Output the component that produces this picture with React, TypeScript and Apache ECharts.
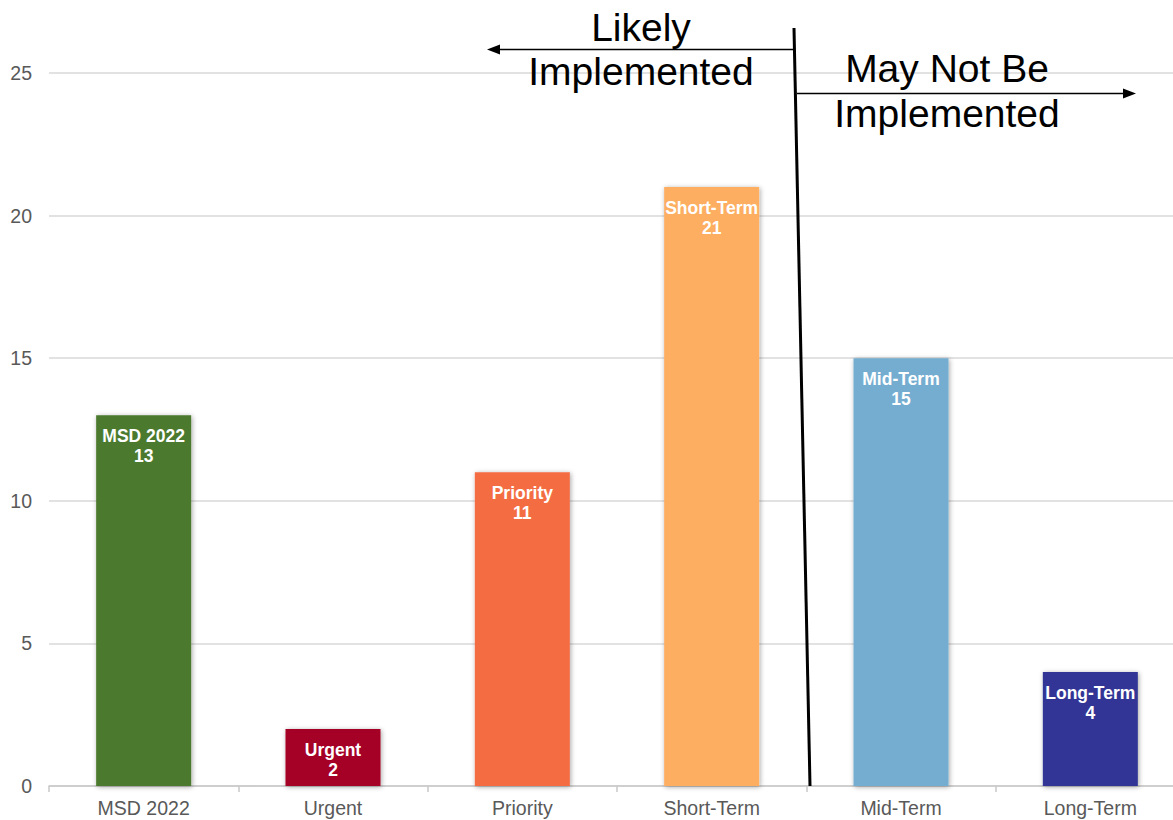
import React, { useEffect, useRef } from "react";
import * as echarts from "echarts";

const categories = ["MSD 2022", "Urgent", "Priority", "Short-Term", "Mid-Term", "Long-Term"];
const counts = [13, 2, 11, 21, 15, 4];
const barColors = ["#4b7a2d", "#a50026", "#f46d43", "#fdae61", "#74add1", "#313695"];
const yTicks = { min: 0, max: 25, interval: 5 };

const annotationFont = '"Liberation Sans", Arial, sans-serif';

export default function App() {
  const ref = useRef<HTMLDivElement>(null);

  useEffect(() => {
    document.body.style.margin = "0";
    if (!ref.current) return;
    const chart = echarts.init(ref.current, null, { renderer: "svg" });

    const annoText = (text: string, x: number, y: number) => ({
      type: "text",
      x,
      y,
      style: {
        text,
        fill: "#000",
        font: `39px ${annotationFont}`,
        align: "center",
        verticalAlign: "middle",
      },
      z: 100,
    });

    chart.setOption({
      animation: false,
      backgroundColor: "#ffffff",
      // the plot runs a little past the visible frame on the right
      grid: { left: 49, top: 73, bottom: 34, right: 0, containLabel: false },
      xAxis: {
        type: "category",
        data: categories,
        axisLine: { lineStyle: { color: "#c8c8c8", width: 1.5 } },
        axisTick: { show: true, length: 6, lineStyle: { color: "#c8c8c8", width: 1.5 } },
        axisLabel: {
          color: "#595959",
          fontSize: 19.5,
          fontFamily: '"Liberation Sans", Arial, sans-serif',
          margin: 12,
        },
      },
      yAxis: {
        type: "value",
        min: yTicks.min,
        max: yTicks.max,
        interval: yTicks.interval,
        axisLine: { show: false },
        axisTick: { show: false },
        splitLine: { lineStyle: { color: "#d9d9d9", width: 1.5 } },
        axisLabel: {
          color: "#595959",
          fontSize: 19.5,
          fontFamily: '"Liberation Sans", Arial, sans-serif',
          margin: 17,
        },
      },
      series: [
        {
          type: "bar",
          barWidth: 95,
          data: counts.map((v, i) => ({
            value: v,
            itemStyle: {
              color: barColors[i],
              shadowBlur: 5,
              shadowColor: "rgba(0,0,0,0.35)",
              shadowOffsetX: 1,
              shadowOffsetY: 1,
            },
          })),
          label: {
            show: true,
            position: "insideTop",
            distance: 11,
            formatter: "{b}\n{c}",
            color: "#ffffff",
            fontWeight: "bold",
            fontSize: 17.5,
            lineHeight: 20,
            fontFamily: '"Liberation Sans", Arial, sans-serif',
          },
        },
      ],
      graphic: [
        // divider between the two groups
        {
          type: "line",
          shape: { x1: 794, y1: 28, x2: 810, y2: 786 },
          style: { stroke: "#000", lineWidth: 3 },
          z: 100,
        },
        // left arrow
        {
          type: "line",
          shape: { x1: 794, y1: 49.5, x2: 496, y2: 49.5 },
          style: { stroke: "#000", lineWidth: 1.5 },
          z: 100,
        },
        {
          type: "polygon",
          shape: { points: [[487, 49.5], [500, 44.5], [500, 54.5]] },
          style: { fill: "#000" },
          z: 100,
        },
        // right arrow
        {
          type: "line",
          shape: { x1: 797, y1: 93.5, x2: 1126, y2: 93.5 },
          style: { stroke: "#000", lineWidth: 1.5 },
          z: 100,
        },
        {
          type: "polygon",
          shape: { points: [[1136, 93.5], [1123, 88.5], [1123, 98.5]] },
          style: { fill: "#000" },
          z: 100,
        },
        annoText("Likely", 641, 27),
        annoText("Implemented", 641, 71),
        annoText("May Not Be", 947, 68),
        annoText("Implemented", 947, 113),
      ],
    });

    return () => chart.dispose();
  }, []);

  return (
    <div style={{ width: 1173, height: 820, overflow: "hidden", position: "relative" }}>
      <div ref={ref} style={{ width: 1185, height: 820 }} />
    </div>
  );
}
